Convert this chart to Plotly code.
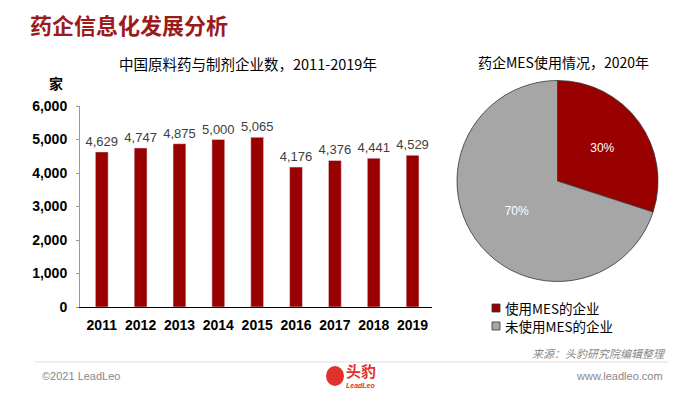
import plotly.graph_objects as go

years = ["2011", "2012", "2013", "2014", "2015", "2016", "2017", "2018", "2019"]
companies = [4629, 4747, 4875, 5000, 5065, 4176, 4376, 4441, 4529]
pie_labels = ["使用MES的企业", "未使用MES的企业"]
pie_values = [30, 70]
y_ticks = [0, 1000, 2000, 3000, 4000, 5000, 6000]

RED = "#990000"
GRAY = "#A6A6A6"
CJK = "Noto Sans CJK SC, Liberation Sans, Arial, sans-serif"
NUM = "Liberation Sans, Arial, sans-serif"
OFF = 8  # page body margin
W, H = 700 - OFF, 394 - OFF

def px(p):
    return (p - OFF) / W

def py(p):
    return 1 - (p - OFF) / H

fig = go.Figure()
fig.add_trace(go.Bar(
    x=years, y=companies, marker_color=RED, width=0.33,
    text=[f"{v:,}" for v in companies], textposition="outside",
    constraintext="none",
    textfont=dict(family=NUM, size=13, color="#404040"),
    cliponaxis=False, showlegend=False,
))
fig.add_trace(go.Pie(
    labels=pie_labels, values=pie_values, sort=False, direction="clockwise",
    rotation=0, marker=dict(colors=[RED, GRAY], line=dict(color="#333333", width=0.8)),
    textinfo="percent", texttemplate="%{percent:.0%}", textposition="inside",
    insidetextfont=dict(family=NUM, size=12, color="white"),
    domain=dict(x=[px(457), px(658)], y=[py(282), py(80)]),
    showlegend=False, hoverinfo="label+percent", automargin=False,
))

fig.update_layout(
    width=W, height=H, margin=dict(l=0, r=0, t=0, b=0, autoexpand=False),
    paper_bgcolor="white", plot_bgcolor="white",
    showlegend=False,
    xaxis=dict(domain=[px(80), px(432)], range=[-0.56, 8.5], showline=True,
               linecolor="#000000", linewidth=1, ticks="", showgrid=False,
               automargin=False, ticklabelstandoff=5,
               tickfont=dict(family=NUM, size=14, color="black", weight="bold")),
    yaxis=dict(domain=[py(307), py(106)], range=[0, 6000], tickvals=y_ticks,
               tickformat=",", showline=True, linecolor="#999999", linewidth=1,
               ticks="outside", ticklen=3, tickcolor="#999999", showgrid=False,
               zeroline=False, automargin=False, ticklabelstandoff=6,
               tickfont=dict(family=NUM, size=14, color="black", weight="bold")),
)

ann = [
    dict(x=px(28), y=py(24), text="<b>药企信息化发展分析</b>", xanchor="left", yanchor="middle",
         font=dict(family=CJK, size=22, color="#9B1B1B")),
    dict(x=px(248), y=py(63), text="中国原料药与制剂企业数，2011-2019年", xanchor="center", yanchor="middle",
         font=dict(family=CJK, size=14.5, color="black")),
    dict(x=px(56), y=py(83), text="<b>家</b>", xanchor="center", yanchor="middle",
         font=dict(family=CJK, size=14, color="black")),
    dict(x=px(563), y=py(62), text="药企MES使用情况，2020年", xanchor="center", yanchor="middle",
         font=dict(family=CJK, size=14, color="black")),
    dict(x=px(668), y=py(353), text="<i>来源：头豹研究院编辑整理</i>", xanchor="right", yanchor="middle",
         font=dict(family=CJK, size=11, color="#888888")),
    dict(x=px(40), y=py(376), text="©2021 LeadLeo", xanchor="left", yanchor="middle",
         font=dict(family=NUM, size=11, color="#888888")),
    dict(x=px(665), y=py(376), text="www.leadleo.com", xanchor="right", yanchor="middle",
         font=dict(family=NUM, size=11, color="#888888")),
    dict(x=px(361), y=py(370), text="<b>头豹</b>", xanchor="center", yanchor="middle",
         font=dict(family=CJK, size=15, color="#E0322B")),
    dict(x=px(361), y=py(385), text="<b><i>LeadLeo</i></b>", xanchor="center", yanchor="middle",
         font=dict(family=NUM, size=7, color="#E0322B")),
    # custom legend text (both rows in one block)
    dict(x=px(503), y=py(317), text="<br>".join(pie_labels), xanchor="left", yanchor="middle",
         align="left", font=dict(family=CJK, size=13.5, color="black")),
]
leg_rows = [(308, RED), (326, GRAY)]
for yy, col in leg_rows:
    fig.add_shape(type="rect", xref="paper", yref="paper",
                  x0=px(492), x1=px(500), y0=py(yy + 4), y1=py(yy - 4),
                  fillcolor=col, line=dict(color="#333333", width=0.8))
for a in ann:
    a.update(xref="paper", yref="paper", showarrow=False)
fig.update_layout(annotations=ann)

fig.add_shape(type="line", xref="paper", yref="paper", x0=px(35), x1=px(668),
              y0=py(362), y1=py(362), line=dict(color="#DDDDDD", width=1))
fig.add_shape(type="circle", xref="paper", yref="paper", x0=px(326), x1=px(344),
              y0=py(386), y1=py(366), fillcolor="#E0322B", line=dict(width=0))

fig.write_html("out.html")
